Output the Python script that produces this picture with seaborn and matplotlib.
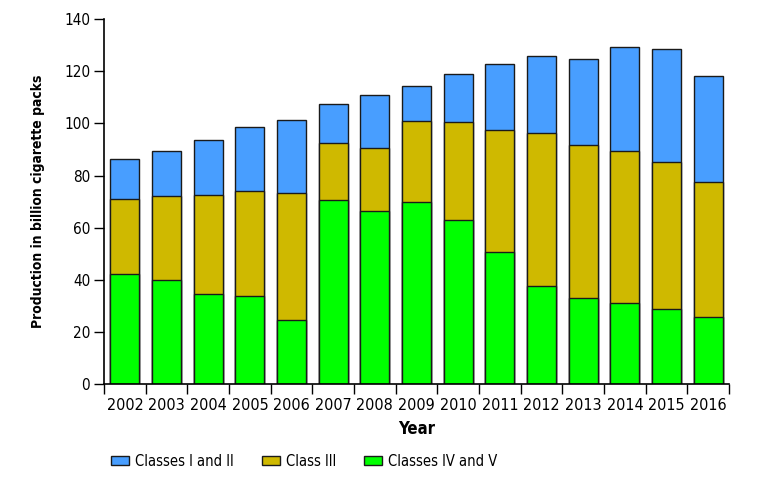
import numpy as np
import pandas as pd
import matplotlib
matplotlib.use("Agg")
import matplotlib.pyplot as plt
import seaborn as sns
from matplotlib.patches import Patch
from matplotlib.ticker import FixedLocator

years = ["2002", "2003", "2004", "2005", "2006", "2007", "2008", "2009",
         "2010", "2011", "2012", "2013", "2014", "2015", "2016"]
classes_iv_v = [42.2, 39.8, 34.4, 33.8, 24.5, 70.8, 66.5, 69.7, 63.0, 50.8,
                37.8, 33.2, 31.1, 28.8, 25.8]
class_iii = [28.8, 32.4, 38.1, 40.4, 48.8, 21.8, 23.9, 31.2, 37.4, 46.6,
             58.4, 58.5, 58.3, 56.4, 51.6]
classes_i_ii = [15.4, 17.2, 21.1, 24.4, 28.0, 14.7, 20.7, 13.4, 18.4, 25.3,
                29.6, 33.2, 40.1, 43.3, 40.9]
series_names = ["Classes I and II", "Class III", "Classes IV and V"]
colors = ["#489eff", "#cfb900", "#00ff00"]
yticks = [0, 20, 40, 60, 80, 100, 120, 140]

sns.set_style("ticks")
plt.rcParams['font.family'] = ['DejaVu Sans']
plt.rcParams['font.stretch'] = 'condensed'
plt.rcParams['text.color'] = 'black'
plt.rcParams['axes.labelcolor'] = 'black'
plt.rcParams['xtick.color'] = 'black'
plt.rcParams['ytick.color'] = 'black'

df = pd.DataFrame({"Year": years, "iv_v": classes_iv_v,
                   "iii": class_iii, "i_ii": classes_i_ii})
df["top_iii"] = df["iv_v"] + df["iii"]
df["total"] = df["top_iii"] + df["i_ii"]

fig = plt.figure(figsize=(7.71, 4.79), dpi=100)
ax = fig.add_axes([0.135, 0.198, 0.8105, 0.762])

edge = "#1a1a1a"
for col, c in zip(["total", "top_iii", "iv_v"], colors):
    sns.barplot(data=df, x="Year", y=col, color=c, width=0.70,
                edgecolor=edge, linewidth=1.0, ax=ax, saturation=1)

ax.set_xlim(-0.5, len(years) - 0.5)
ax.set_ylim(0, 140)
ax.set_yticks(yticks)
ax.set_yticklabels([str(t) for t in yticks], fontsize=11)
ax.tick_params(axis="y", length=7, width=1, color="black", pad=3)
ax.tick_params(axis="x", which="major", length=0, labelsize=11.5, pad=10)
ax.xaxis.set_minor_locator(FixedLocator(np.arange(-0.5, len(years), 1.0)))
ax.tick_params(axis="x", which="minor", length=7, width=1, color="black")
for sp in ["top", "right"]:
    ax.spines[sp].set_visible(False)
for sp in ["left", "bottom"]:
    ax.spines[sp].set_linewidth(1.2)
    ax.spines[sp].set_color("black")

ax.set_xlabel("Year", fontsize=12, fontweight="bold", labelpad=5)
ax.set_ylabel("Production in billion cigarette packs", fontsize=10,
              fontweight="bold", labelpad=14)

handles = [Patch(facecolor=c, edgecolor=edge, linewidth=1.0) for c in colors]
fig.legend(handles, series_names, loc="center left",
           bbox_to_anchor=(0.144, 0.037), ncol=3, frameon=False, fontsize=10.5,
           handlelength=1.25, handleheight=0.55, handletextpad=0.4,
           columnspacing=1.9, borderaxespad=0, borderpad=0)

fig.savefig("out.png", dpi=100)
